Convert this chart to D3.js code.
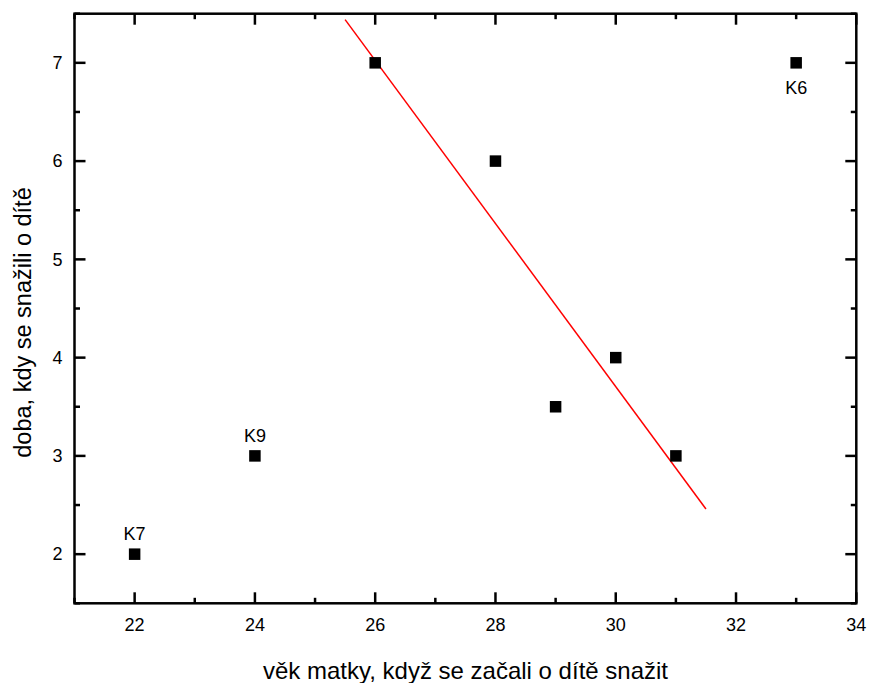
<!DOCTYPE html>
<html>
<head>
<meta charset="utf-8">
<script src="https://cdn.jsdelivr.net/npm/d3@7"></script>
<style>
  body { margin: 0; background: #fff; }
  text { font-family: "Liberation Sans", Arial, sans-serif; fill: #000; }
</style>
</head>
<body>
<script>
// data
var ages = [22, 24, 26, 28, 29, 30, 31, 33];
var times = [2, 3, 7, 6, 3.5, 4, 3, 7];
var labels = ["K7", "K9", "", "", "", "", "", "K6"];
var labelPos = ["above", "above", "", "", "", "", "", "below"];

// fitted line end points
var fitX = [25.5, 31.5];
var fitY = [7.44, 2.46];

var xTicks = [22, 24, 26, 28, 30, 32, 34];
var xMinor = [21, 23, 25, 27, 29, 31, 33];
var yTicks = [2, 3, 4, 5, 6, 7];
var yMinor = [1.5, 2.5, 3.5, 4.5, 5.5, 6.5, 7.5];

var W = 869, H = 683;
var margin = {top: 13.7, right: 12.7, bottom: 79.7, left: 74.5};
var w = W - margin.left - margin.right,
    h = H - margin.top - margin.bottom;

var svg = d3.select("body").append("svg")
    .attr("width", W)
    .attr("height", H);

var g = svg.append("g")
    .attr("transform", "translate(" + margin.left + "," + margin.top + ")");

var x = d3.scaleLinear().domain([21, 34]).range([0, w]);
var y = d3.scaleLinear().domain([1.5, 7.5]).range([h, 0]);

// ticks on all four sides, pointing inward
function tickLines(sel, vals, len, side) {
  sel.selectAll(null)
    .data(vals)
    .enter().append("line")
    .attr("stroke", "#000")
    .attr("stroke-width", 2.5)
    .attr("x1", function(d) { return side == "b" || side == "t" ? x(d) : (side == "l" ? 0 : w); })
    .attr("x2", function(d) { return side == "b" || side == "t" ? x(d) : (side == "l" ? len : w - len); })
    .attr("y1", function(d) { return side == "l" || side == "r" ? y(d) : (side == "b" ? h : 0); })
    .attr("y2", function(d) { return side == "l" || side == "r" ? y(d) : (side == "b" ? h - len : len); });
}

["b", "t"].forEach(function(s) {
  tickLines(g, xTicks, 11, s);
  tickLines(g, xMinor, 5.5, s);
});
["l", "r"].forEach(function(s) {
  tickLines(g, yTicks, 11, s);
  tickLines(g, yMinor, 5.5, s);
});

// frame
g.append("rect")
    .attr("x", 0).attr("y", 0)
    .attr("width", w).attr("height", h)
    .attr("fill", "none")
    .attr("stroke", "#000")
    .attr("stroke-width", 2.5);

// tick labels
g.selectAll(".xl")
    .data(xTicks)
    .enter().append("text")
    .attr("x", function(d) { return x(d); })
    .attr("y", h + 28)
    .attr("text-anchor", "middle")
    .style("font-size", "18px")
    .text(function(d) { return d; });

g.selectAll(".yl")
    .data(yTicks)
    .enter().append("text")
    .attr("x", -12)
    .attr("y", function(d) { return y(d); })
    .attr("dy", "0.35em")
    .attr("text-anchor", "end")
    .style("font-size", "18px")
    .text(function(d) { return d; });

// axis titles
svg.append("text")
    .attr("x", 465.5)
    .attr("y", 679)
    .attr("text-anchor", "middle")
    .style("font-size", "24px")
    .text("věk matky, když se začali o dítě snažit");

svg.append("text")
    .attr("transform", "translate(30.5,322.5) rotate(-90)")
    .attr("text-anchor", "middle")
    .style("font-size", "23.5px")
    .text("doba, kdy se snažili o dítě");

// fit line
g.append("line")
    .attr("x1", x(fitX[0])).attr("y1", y(fitY[0]))
    .attr("x2", x(fitX[1])).attr("y2", y(fitY[1]))
    .attr("stroke", "#ff0000")
    .attr("stroke-width", 1.5);

// points
var pts = ages.map(function(a, i) {
  return {x: a, y: times[i], label: labels[i], pos: labelPos[i]};
});

g.selectAll("rect.pt")
    .data(pts)
    .enter().append("rect")
    .attr("class", "pt")
    .attr("x", function(d) { return x(d.x) - 5.75; })
    .attr("y", function(d) { return y(d.y) - 5.75; })
    .attr("width", 11.5)
    .attr("height", 11.5)
    .attr("fill", "#000");

g.selectAll(".plabel")
    .data(pts.filter(function(d) { return d.label; }))
    .enter().append("text")
    .attr("x", function(d) { return x(d.x); })
    .attr("y", function(d) { return d.pos == "above" ? y(d.y) - 14 : y(d.y) + 31; })
    .attr("text-anchor", "middle")
    .style("font-size", "18px")
    .text(function(d) { return d.label; });
</script>
</body>
</html>
